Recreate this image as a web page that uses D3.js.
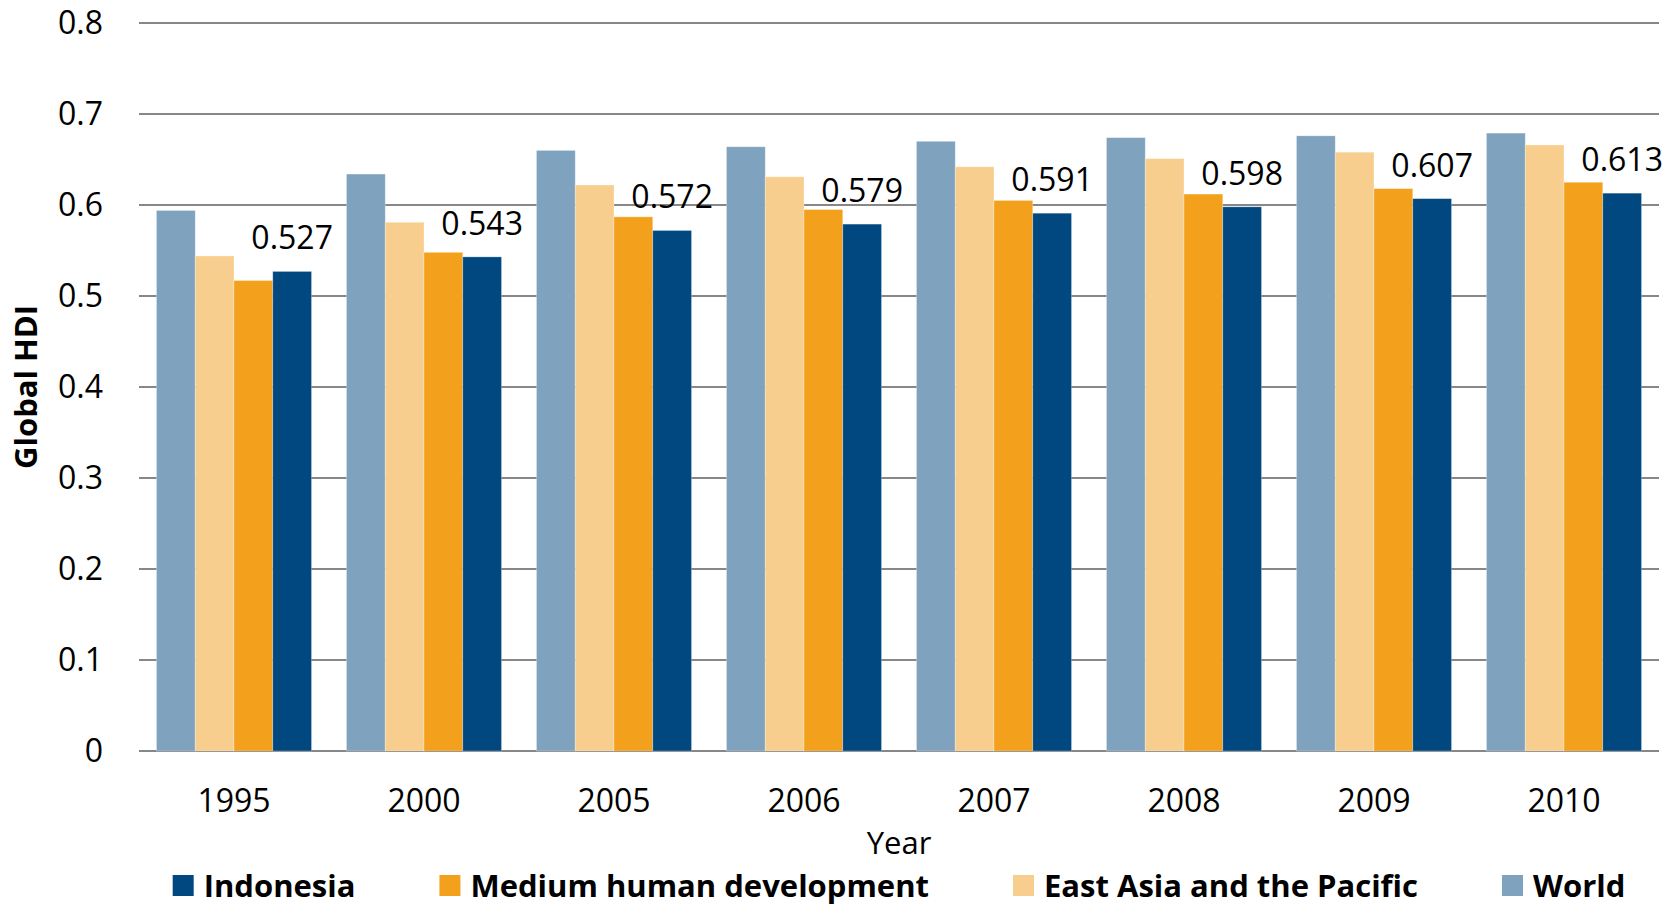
<!DOCTYPE html>
<html>
<head>
<meta charset="utf-8">
<script src="https://cdn.jsdelivr.net/npm/d3@7"></script>
<style>
  html, body { margin: 0; padding: 0; background: #fff; }
  svg { display: block; font-family: "Open Sans", "Liberation Sans", sans-serif; }
</style>
</head>
<body>
<svg id="chart" width="1680" height="905"></svg>
<script>
// Human Development Index by year
const years = ["1995", "2000", "2005", "2006", "2007", "2008", "2009", "2010"];
const world      = [0.594, 0.634, 0.660, 0.664, 0.670, 0.674, 0.676, 0.679];
const eastAsia   = [0.544, 0.581, 0.622, 0.631, 0.642, 0.651, 0.658, 0.666];
const mediumHD   = [0.517, 0.548, 0.587, 0.595, 0.605, 0.612, 0.618, 0.625];
const indonesia  = [0.527, 0.543, 0.572, 0.579, 0.591, 0.598, 0.607, 0.613];
const yTicks = [0, 0.1, 0.2, 0.3, 0.4, 0.5, 0.6, 0.7, 0.8];

// bar order inside each year group (left to right)
const series = [
  { name: "World", values: world, color: "#7FA2BE" },
  { name: "East Asia and the Pacific", values: eastAsia, color: "#F8CE8E" },
  { name: "Medium human development", values: mediumHD, color: "#F3A11D" },
  { name: "Indonesia", values: indonesia, color: "#024880" }
];
// legend order
const legendOrder = ["Indonesia", "Medium human development", "East Asia and the Pacific", "World"];

const svg = d3.select("#chart");
const margin = { left: 139, right: 21, top: 23, bottom: 154 };
const W = 1680, H = 905;
const innerW = W - margin.left - margin.right;
const innerH = H - margin.top - margin.bottom;

const x0 = d3.scaleBand().domain(years).range([0, innerW])
  .paddingInner(0.184).paddingOuter(0.092);
const x1 = d3.scaleBand().domain(series.map(s => s.name)).range([0, x0.bandwidth()]);
const y = d3.scaleLinear().domain([0, 0.8]).range([innerH, 0]);

const g = svg.append("g").attr("transform", `translate(${margin.left},${margin.top})`);

// horizontal gridlines
g.append("g")
  .selectAll("line")
  .data(yTicks)
  .join("line")
  .attr("x1", 0).attr("x2", innerW)
  .attr("y1", d => y(d)).attr("y2", d => y(d))
  .attr("stroke", "#5f5f5f")
  .attr("stroke-width", 1.4);

// y-axis tick labels
const yAxis = d3.axisLeft(y).tickValues(yTicks).tickSize(0).tickPadding(36)
  .tickFormat(d => d === 0 ? "0" : d3.format(".1f")(d));
g.append("g").call(yAxis)
  .call(a => a.select(".domain").remove())
  .selectAll("text")
  .attr("font-family", "'Open Sans', sans-serif")
  .attr("font-size", 32)
  .attr("fill", "#000");

// x-axis category labels
const xAxis = d3.axisBottom(x0).tickSize(0).tickPadding(38);
g.append("g").attr("transform", `translate(0,${innerH})`).call(xAxis)
  .call(a => a.select(".domain").remove())
  .selectAll("text")
  .attr("font-family", "'Open Sans', sans-serif")
  .attr("font-size", 32)
  .attr("fill", "#000");

// grouped bars
const groups = g.append("g")
  .selectAll("g")
  .data(years)
  .join("g")
  .attr("transform", d => `translate(${x0(d)},0)`);

groups.selectAll("rect")
  .data((yr, i) => series.map(s => ({ name: s.name, color: s.color, v: s.values[i] })))
  .join("rect")
  .attr("x", d => x1(d.name))
  .attr("width", x1.bandwidth())
  .attr("y", d => y(d.v))
  .attr("height", d => innerH - y(d.v))
  .attr("fill", d => d.color)
  .attr("stroke", "rgba(255,255,255,0.35)")
  .attr("stroke-width", 0.8);

// value labels above the Indonesia bars
groups.append("text")
  .datum((yr, i) => indonesia[i])
  .attr("x", x1("Indonesia") + x1.bandwidth() / 2)
  .attr("y", d => y(d) - 22)
  .attr("text-anchor", "middle")
  .attr("font-size", 32)
  .attr("fill", "#000")
  .text(d => d3.format(".3f")(d));

// axis titles
svg.append("text")
  .attr("transform", `translate(${37},${margin.top + innerH / 2}) rotate(-90)`)
  .attr("text-anchor", "middle")
  .attr("font-size", 31)
  .attr("font-weight", "bold")
  .attr("fill", "#000")
  .text("Global HDI");

svg.append("text")
  .attr("x", margin.left + innerW / 2)
  .attr("y", 854)
  .attr("text-anchor", "middle")
  .attr("font-size", 31)
  .attr("fill", "#000")
  .text("Year");

// legend, laid out in a row and centred under the plot
const legend = svg.append("g");
const itemGap = 84, swatch = 21, swatchGap = 10;
let cursor = 0;
legendOrder.forEach(name => {
  const s = series.find(d => d.name === name);
  const item = legend.append("g").attr("transform", `translate(${cursor},0)`);
  item.append("rect")
    .attr("x", 0).attr("y", -22)
    .attr("width", swatch).attr("height", swatch)
    .attr("fill", s.color);
  const t = item.append("text")
    .attr("x", swatch + swatchGap)
    .attr("y", 0)
    .attr("font-size", 31)
    .attr("font-weight", "bold")
    .attr("fill", "#000")
    .text(name);
  cursor += swatch + swatchGap + t.node().getComputedTextLength() + itemGap;
});
const legendW = cursor - itemGap;
legend.attr("transform", `translate(${margin.left + innerW / 2 - legendW / 2},897)`);
</script>
</body>
</html>
